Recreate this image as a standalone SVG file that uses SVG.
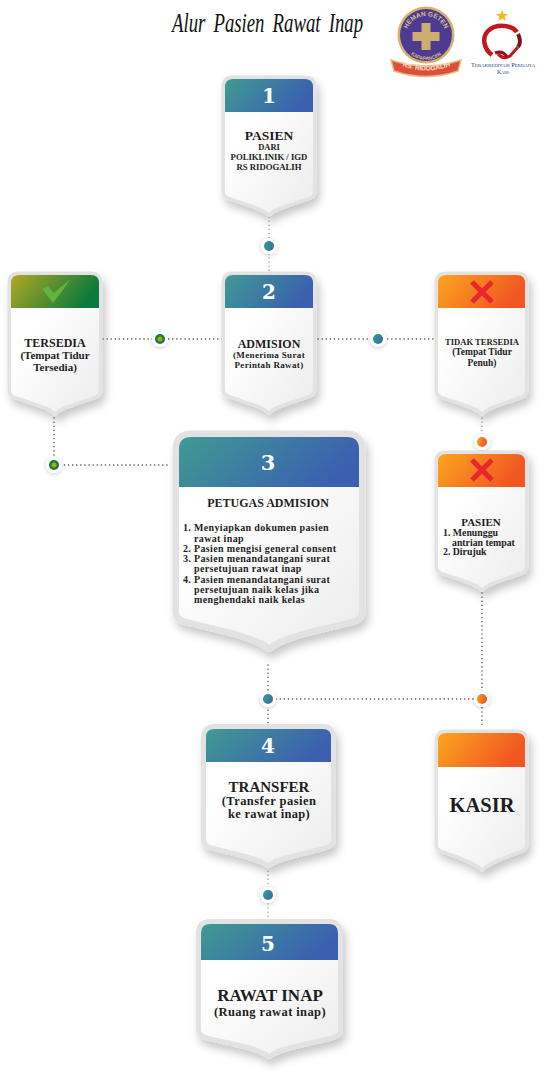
<svg xmlns="http://www.w3.org/2000/svg" width="544" height="1079" viewBox="0 0 544 1079">
<style>
text{font-family:"Liberation Serif","DejaVu Serif",serif;font-weight:700;fill:#1d1d1d}
.m{text-anchor:middle}
.ls{letter-spacing:.35px}
.num{fill:#fff;font-size:20px;text-anchor:middle;font-family:"DejaVu Serif",serif;font-weight:700}
.san{font-family:"Liberation Sans",sans-serif}
.halo{fill:#e2e2e2;stroke:#e2e2e2;stroke-width:7;stroke-linejoin:round;filter:url(#sh)}
.big{stroke-width:13}
.mid{stroke-width:10}
.body{fill:url(#bg)}
.blue{fill:url(#gb)}.orange{fill:url(#go)}.green{fill:url(#gg)}
.dots{fill:none;stroke:#444;stroke-width:1.4;stroke-linecap:round;stroke-dasharray:.1 4}
.faint{stroke:#999}
.ring{fill:#fff;filter:url(#ds)}
.x{fill:none;stroke:#e8262c;stroke-width:5}
.kars{font-weight:400;fill:#2c3f7c;font-variant:small-caps}
</style>
<defs>
<linearGradient id="gb" x1="0" y1="0" x2="1" y2=".3"><stop offset="0" stop-color="#3f9b92"/><stop offset="1" stop-color="#3b60b0"/></linearGradient>
<linearGradient id="gj" x1="0" y1="0" x2="1" y2=".3"><stop offset=".2" stop-color="#2f9a88"/><stop offset="1" stop-color="#3a70a8"/></linearGradient>
<linearGradient id="go" x1="0" y1="0" x2="1" y2=".3"><stop offset="0" stop-color="#fba61e"/><stop offset="1" stop-color="#f15623"/></linearGradient>
<linearGradient id="gg" x1="0" y1="0" x2="1" y2=".3"><stop offset="0" stop-color="#b3a822"/><stop offset="1" stop-color="#0b7a3c"/></linearGradient>
<linearGradient id="bg" x1="0" y1="0" x2="1" y2="1"><stop offset=".3" stop-color="#fff"/><stop offset="1" stop-color="#ececec"/></linearGradient>
<filter id="sh" x="-30%" y="-20%" width="160%" height="140%"><feDropShadow dx="3" dy="6" stdDeviation="4" flood-color="#000" flood-opacity=".22"/></filter>
<filter id="ds" x="-60%" y="-60%" width="220%" height="220%"><feDropShadow dx="0" dy="1" stdDeviation="2" flood-color="#000" flood-opacity=".2"/></filter>
<path id="arcTop" d="M406 36A20 20 0 0 1 446 36"/>
<path id="arcBot" d="M402 36A24 24 0 0 0 450 36"/>
<path id="rib" d="M396 63Q426 78 457 63"/>
</defs>

<g id="connectors">
<path class="dots faint" d="M269 217V272"/>
<path class="dots" d="M103 339H223M318 339H433M54 418V465H168"/>
<path class="dots faint" d="M482 414V452"/>
<path class="dots" d="M482 593V728M268 665V725M272 699H478"/>
<path class="dots faint" d="M268 867V922"/>
<g id="joints">
<circle class="ring" cx="269" cy="246" r="8"/><circle cx="269" cy="246" r="5" fill="url(#gj)"/>
<circle class="ring" cx="160" cy="339" r="8"/><circle cx="160" cy="339" r="5" fill="#1c7a34"/><circle cx="160" cy="339" r="2.500" fill="#a9a41f"/>
<circle class="ring" cx="378" cy="339" r="8"/><circle cx="378" cy="339" r="5" fill="url(#gj)"/>
<circle class="ring" cx="54" cy="465" r="8"/><circle cx="54" cy="465" r="5" fill="#1c7a34"/><circle cx="54" cy="465" r="2.500" fill="#a9a41f"/>
<circle class="ring" cx="482" cy="442" r="8"/><circle cx="482" cy="442" r="5" fill="url(#go)"/>
<circle class="ring" cx="268" cy="699" r="8"/><circle cx="268" cy="699" r="5" fill="url(#gj)"/>
<circle class="ring" cx="482" cy="699" r="8"/><circle cx="482" cy="699" r="5" fill="url(#go)"/>
<circle class="ring" cx="268" cy="895" r="8"/><circle cx="268" cy="895" r="5" fill="url(#gj)"/>
</g>
</g>

<g id="title"><text x="172" y="32" font-size="27" textLength="191" lengthAdjust="spacingAndGlyphs" word-spacing="5" style="font-weight:400;font-style:italic;fill:#111">Alur Pasien Rawat Inap</text></g>

<g id="logo-rs">
<circle cx="426" cy="35" r="28.500" fill="#d5b16c"/><circle cx="426" cy="35" r="26" fill="#4c3b90"/>
<path d="M421.500 23h9v9h9v9h-9v9h-9v-9h-9v-9h9z" fill="#cdae70"/>
<path d="M391 60Q426 72 461 60L458 71Q426 82 394 71Z" fill="#dd4f38" stroke="#e7b98a" stroke-width="1.500"/>
<text class="san" font-size="6.500" style="fill:#dcc188"><textPath href="#arcTop" startOffset="50%" text-anchor="middle">HEMAN GETEN</textPath></text>
<text class="san" font-size="4.800" style="fill:#dcc188"><textPath href="#arcBot" startOffset="50%" text-anchor="middle">KAPAPANCEN</textPath></text>
<text class="san" font-size="6.500" style="fill:#f6e3c8"><textPath href="#rib" startOffset="50%" text-anchor="middle">RS. RIDOGALIH</textPath></text>
</g>
<g id="logo-kars">
<path d="M502 10l1.700 4h4.300l-3.400 2.700 1.200 4.300-3.800-2.500-3.800 2.500 1.200-4.300-3.400-2.700h4.300z" fill="#f2b81c"/>
<path d="M492 55C483 48 482 37 488 31C495 24 511 24 517 32" fill="none" stroke="#c4161c" stroke-width="4.500"/>
<path d="M518 34Q522 42 518 47" fill="none" stroke="#7d1416" stroke-width="4"/>
<path d="M518 47L510 56Q503 60 498 54" fill="none" stroke="#c4161c" stroke-width="3"/>
<path d="M495 53Q503 50 507 57" fill="none" stroke="#8c1518" stroke-width="3"/>
<text class="m kars" x="503" y="67" font-size="6.500" textLength="64">Terakreditasi Perdana</text>
<text class="m kars" x="503" y="74" font-size="6">Kars</text>
</g>

<g id="node-1">
<path class="halo" d="M225 87Q225 79 233 79H305Q313 79 313 87V192Q313 196 305 198C292 203 274 207 269 213C264 207 246 203 233 198Q225 196 225 192Z"/>
<path class="body" d="M225 87Q225 79 233 79H305Q313 79 313 87V192Q313 196 305 198C292 203 274 207 269 213C264 207 246 203 233 198Q225 196 225 192Z"/>
<path class="blue" d="M225 112V87Q225 79 233 79H305Q313 79 313 87V112Z"/>
<text class="num" x="269" y="103">1</text>
<text class="m" x="269" y="140" font-size="13.500">PASIEN</text>
<text class="m" x="269" y="150" font-size="8.500">DARI</text>
<text class="m" x="269" y="160" font-size="8.700">POLIKLINIK / IGD</text>
<text class="m" x="269" y="170" font-size="8.700">RS RIDOGALIH</text>
</g>

<g id="node-2">
<path class="halo" d="M225 283Q225 275 233 275H305Q313 275 313 283V390Q313 394 305 396C292 401 274 405 269 411C264 405 246 401 233 396Q225 394 225 390Z"/>
<path class="body" d="M225 283Q225 275 233 275H305Q313 275 313 283V390Q313 394 305 396C292 401 274 405 269 411C264 405 246 401 233 396Q225 394 225 390Z"/>
<path class="blue" d="M225 308V283Q225 275 233 275H305Q313 275 313 283V308Z"/>
<text class="num" x="269" y="299">2</text>
<text class="m" x="269" y="348" font-size="12">ADMISION</text>
<text class="m ls" x="269" y="358" font-size="9">(Menerima Surat</text>
<text class="m ls" x="269" y="368" font-size="9">Perintah Rawat)</text>
</g>

<g id="node-tersedia">
<path class="halo" d="M11 283Q11 275 19 275H91Q99 275 99 283V391Q99 395 91 397C78 402 60 406 55 412C50 406 32 402 19 397Q11 395 11 391Z"/>
<path class="body" d="M11 283Q11 275 19 275H91Q99 275 99 283V391Q99 395 91 397C78 402 60 406 55 412C50 406 32 402 19 397Q11 395 11 391Z"/>
<path class="green" d="M11 308V283Q11 275 19 275H91Q99 275 99 283V308Z"/>
<path d="M42.500 289L48 286L53.500 293L71 279L53 303Z" fill="#62b53c"/>
<text class="m" x="55" y="347" font-size="12">TERSEDIA</text>
<text class="m" x="55" y="359" font-size="11">(Tempat Tidur</text>
<text class="m" x="55" y="371" font-size="11">Tersedia)</text>
</g>

<g id="node-tidak">
<path class="halo" d="M438 283Q438 275 446 275H517Q525 275 525 283V391Q525 395 517 397C504 402 487 406 482 412C477 406 459 402 446 397Q438 395 438 391Z"/>
<path class="body" d="M438 283Q438 275 446 275H517Q525 275 525 283V391Q525 395 517 397C504 402 487 406 482 412C477 406 459 402 446 397Q438 395 438 391Z"/>
<path class="orange" d="M438 308V283Q438 275 446 275H517Q525 275 525 283V308Z"/>
<path class="x" d="M472 282L492 302M492 282L472 302"/>
<text class="m" x="482" y="345" font-size="8.600">TIDAK TERSEDIA</text>
<text class="m" x="482" y="355" font-size="9.500">(Tempat Tidur</text>
<text class="m" x="482" y="366" font-size="9.500">Penuh)</text>
</g>

<g id="node-pasien">
<path class="halo" d="M438 462Q438 454 446 454H517Q525 454 525 462V567Q525 571 517 573C504 578 487 582 482 588C477 582 459 578 446 573Q438 571 438 567Z"/>
<path class="body" d="M438 462Q438 454 446 454H517Q525 454 525 462V567Q525 571 517 573C504 578 487 582 482 588C477 582 459 578 446 573Q438 571 438 567Z"/>
<path class="orange" d="M438 487V462Q438 454 446 454H517Q525 454 525 462V487Z"/>
<path class="x" d="M472 460L492 480M492 460L472 480"/>
<text class="m" x="481" y="526" font-size="11">PASIEN</text>
<text x="443" y="536" font-size="9.800">1. Menunggu</text>
<text x="452" y="546" font-size="9.800">antrian tempat</text>
<text x="443" y="555" font-size="9.800">2. Dirujuk</text>
</g>

<g id="node-3">
<path class="halo big" d="M179 449Q179 437 191 437H347Q359 437 359 449V612Q359 617 351 619C320 627 282 634 269 645C256 634 218 627 187 619Q179 617 179 612Z"/>
<path class="body" d="M179 449Q179 437 191 437H347Q359 437 359 449V612Q359 617 351 619C320 627 282 634 269 645C256 634 218 627 187 619Q179 617 179 612Z"/>
<path class="blue" d="M179 487V449Q179 437 191 437H347Q359 437 359 449V487Z"/>
<text class="num" x="268" y="470" style="font-size:21px">3</text>
<text class="m" x="268" y="507" font-size="12">PETUGAS ADMISION</text>
<g font-size="10" class="ls">
<text x="183" y="531">1. <tspan x="194">Menyiapkan dokumen pasien</tspan></text>
<text x="194" y="542">rawat inap</text>
<text x="183" y="552">2. <tspan x="194">Pasien mengisi general consent</tspan></text>
<text x="183" y="562">3. <tspan x="194">Pasien menandatangani surat</tspan></text>
<text x="194" y="572">persetujuan rawat inap</text>
<text x="183" y="583">4. <tspan x="194">Pasien menandatangani surat</tspan></text>
<text x="194" y="593">persetujuan naik kelas jika</text>
<text x="194" y="603">menghendaki naik kelas</text>
</g>
</g>

<g id="node-4">
<path class="halo mid" d="M206 737Q206 729 214 729H323Q331 729 331 737V840Q331 844 323 846C305 851 276 856 268 863C260 856 232 851 214 846Q206 844 206 840Z"/>
<path class="body" d="M206 737Q206 729 214 729H323Q331 729 331 737V840Q331 844 323 846C305 851 276 856 268 863C260 856 232 851 214 846Q206 844 206 840Z"/>
<path class="blue" d="M206 762V737Q206 729 214 729H323Q331 729 331 737V762Z"/>
<text class="num" x="268" y="753">4</text>
<text class="m" x="269" y="792" font-size="15">TRANSFER</text>
<text class="m" x="269" y="805" font-size="12.500" style="letter-spacing:.45px">(Transfer pasien</text>
<text class="m" x="269" y="818" font-size="12.500" style="letter-spacing:.3px">ke rawat inap)</text>
</g>

<g id="node-kasir">
<path class="halo" d="M438 741Q438 733 446 733H517Q525 733 525 741V845Q525 849 517 851C504 856 487 862 482 868C477 862 459 856 446 851Q438 849 438 845Z"/>
<path class="body" d="M438 741Q438 733 446 733H517Q525 733 525 741V845Q525 849 517 851C504 856 487 862 482 868C477 862 459 856 446 851Q438 849 438 845Z"/>
<path class="orange" d="M438 767V741Q438 733 446 733H517Q525 733 525 741V767Z"/>
<text class="m" x="482" y="812" font-size="20.500">KASIR</text>
</g>

<g id="node-5">
<path class="halo mid" d="M201 933Q201 924 210 924H329Q338 924 338 933V1030Q338 1034 330 1036C310 1041 277 1046 269 1054C261 1046 229 1041 209 1036Q201 1034 201 1030Z"/>
<path class="body" d="M201 933Q201 924 210 924H329Q338 924 338 933V1030Q338 1034 330 1036C310 1041 277 1046 269 1054C261 1046 229 1041 209 1036Q201 1034 201 1030Z"/>
<path class="blue" d="M201 960V933Q201 924 210 924H329Q338 924 338 933V960Z"/>
<text class="num" x="268" y="951">5</text>
<text class="m" x="270" y="1001" font-size="17">RAWAT INAP</text>
<text class="m" x="270" y="1016" font-size="12.500" style="letter-spacing:.4px">(Ruang rawat inap)</text>
</g>
</svg>
